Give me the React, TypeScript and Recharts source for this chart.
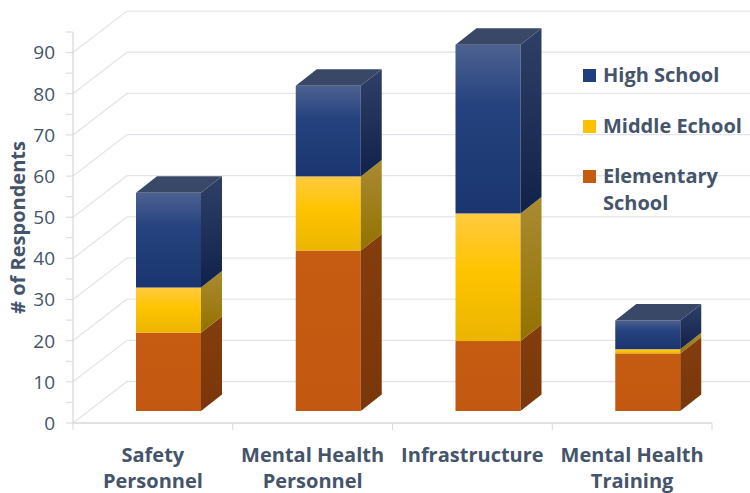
import React from "react";
import { BarChart, Bar, XAxis, YAxis, CartesianGrid, Legend } from "recharts";

const categories = [
  "Safety Personnel",
  "Mental Health Personnel",
  "Infrastructure",
  "Mental Health Training",
];
const elementary = [19, 39, 17, 14];
const middle = [11, 18, 31, 1];
const high = [23, 22, 41, 7];
const seriesNames = ["Elementary School", "Middle Echool", "High School"];
const yTicks = [0, 5, 10, 15, 20, 25, 30, 35, 40, 45, 50, 55, 60, 65, 70, 75, 80, 85, 90, 95];

const data = categories.map((name, i) => ({
  name,
  elementary: elementary[i],
  middle: middle[i],
  high: high[i],
}));

const FONT = "'Open Sans', sans-serif";
const TEXT = "#44546A";
const AXIS = "#D9D9D9";
const WALL = "#E3E5EA";

// 3d projection offsets
const BX = 16; // bar front sits a bit behind the front plane
const BY = 12;
const DX = 21; // bar depth
const DY = 16.5;
const WX = 54; // side wall depth
const WY = 41.5;

const wrapLabel = (s: string) => {
  const words = s.split(" ");
  if (words.length < 2) return [s];
  return [words.slice(0, -1).join(" "), words[words.length - 1]];
};

const makeShape = (front: string, side: string, top?: string) => (props: any) => {
  const { x, y, width, height } = props;
  if (!width || height == null) return <g />;
  const fx = x + BX;
  const fy = y - BY;
  const r = fx + width;
  return (
    <g>
      <rect x={fx} y={fy} width={width} height={height} fill={`url(#${front})`} />
      <path
        d={`M${r},${fy} L${r + DX},${fy - DY} L${r + DX},${fy + height - DY} L${r},${fy + height} Z`}
        fill={`url(#${side})`}
      />
      {top && (
        <path
          d={`M${fx},${fy} L${fx + DX},${fy - DY} L${r + DX},${fy - DY} L${r},${fy} Z`}
          fill={top}
        />
      )}
    </g>
  );
};

const wallLine = (p: any) => {
  if (p.index % 2 !== 0) return <g key={p.key} />;
  const y = p.y1;
  return (
    <path
      key={p.key}
      d={`M${p.x1},${y} L${p.x1 + WX},${y - WY} L750,${y - WY}`}
      stroke={WALL}
      strokeWidth={1.3}
      fill="none"
    />
  );
};

const YTick = (props: any) => {
  const { x, y, payload } = props;
  if (payload.value % 10 !== 0) return <g />;
  return (
    <text x={x} y={y} dy="0.36em" textAnchor="end" fill={TEXT} fontSize={19} fontFamily={FONT}>
      {payload.value}
    </text>
  );
};

const XTick = (props: any) => {
  const { x, y, payload, index } = props;
  const half = payload.offset || 80;
  const lines = wrapLabel(payload.value);
  return (
    <g>
      <line x1={x - half} x2={x - half} y1={y} y2={y + 7} stroke={AXIS} />
      {index === categories.length - 1 && (
        <line x1={x + half} x2={x + half} y1={y} y2={y + 7} stroke={AXIS} />
      )}
      <text x={x} y={y + 38.5} textAnchor="middle" fill={TEXT} fontSize={20} fontWeight={700} fontFamily={FONT}>
        {lines.map((l, i) => (
          <tspan key={i} x={x} dy={i === 0 ? 0 : 26}>
            {l}
          </tspan>
        ))}
      </text>
    </g>
  );
};

const LegendBox = (props: any) => {
  // top of the stack first, as in the original legend
  const items = [...(props.payload || [])].sort(
    (a: any, b: any) => seriesNames.indexOf(b.value) - seriesNames.indexOf(a.value)
  );
  return (
    <div style={{ fontFamily: FONT, fontWeight: 700, fontSize: 20, lineHeight: "27px", color: TEXT }}>
      {items.map((it: any, i: number) => (
        <div key={i} style={{ position: "relative", paddingLeft: 20, width: 148, marginBottom: 23.5 }}>
          <span
            style={{ position: "absolute", left: 0, top: 8, width: 13, height: 13, background: it.color }}
          />
          {it.value}
        </div>
      ))}
    </div>
  );
};

export default function App() {
  return (
    <div style={{ position: "absolute", left: 0, top: 0, background: "#fff" }}>
      <BarChart
        width={750}
        height={493}
        data={data}
        margin={{ top: 32, right: 38, bottom: 30, left: 0 }}
      >
        <defs>
          <linearGradient id="hsFront" x1="0" y1="0" x2="0" y2="1">
            <stop offset="0%" stopColor="#4D6191" />
            <stop offset="35%" stopColor="#26437F" />
            <stop offset="100%" stopColor="#1A356F" />
          </linearGradient>
          <linearGradient id="hsSide" x1="0" y1="0" x2="0" y2="1">
            <stop offset="0%" stopColor="#2F4068" />
            <stop offset="100%" stopColor="#10224A" />
          </linearGradient>
          <linearGradient id="msFront" x1="0" y1="0" x2="0" y2="1">
            <stop offset="0%" stopColor="#FFCA40" />
            <stop offset="45%" stopColor="#FFC400" />
            <stop offset="100%" stopColor="#EBB500" />
          </linearGradient>
          <linearGradient id="msSide" x1="0" y1="0" x2="0" y2="1">
            <stop offset="0%" stopColor="#AA8B32" />
            <stop offset="100%" stopColor="#937200" />
          </linearGradient>
          <linearGradient id="esFront" x1="0" y1="0" x2="0" y2="1">
            <stop offset="0%" stopColor="#C65B12" />
            <stop offset="100%" stopColor="#C35910" />
          </linearGradient>
          <linearGradient id="esSide" x1="0" y1="0" x2="0" y2="1">
            <stop offset="0%" stopColor="#843D0D" />
            <stop offset="100%" stopColor="#7A370A" />
          </linearGradient>
        </defs>
        <CartesianGrid vertical={false} horizontal={wallLine} syncWithTicks />
        <XAxis
          dataKey="name"
          interval={0}
          height={40}
          tickLine={false}
          tickSize={0}
          tickMargin={0}
          axisLine={{ stroke: AXIS, strokeWidth: 1.3 }}
          tick={<XTick />}
        />
        <YAxis
          type="number"
          domain={[0, 95]}
          ticks={yTicks}
          interval={0}
          width={73}
          tickSize={7}
          tickMargin={11}
          axisLine={{ stroke: AXIS, strokeWidth: 1.3 }}
          tickLine={{ stroke: AXIS }}
          tick={<YTick />}
          label={{
            content: (lp: any) => {
              const vb = lp.viewBox || { x: 0, y: 32, height: 391 };
              const cx = vb.x + 25;
              const cy = vb.y + vb.height / 2;
              return (
                <text
                  transform={`translate(${cx},${cy}) rotate(-90)`}
                  textAnchor="middle"
                  fill={TEXT}
                  fontSize={20}
                  fontWeight={700}
                  fontFamily={FONT}
                >
                  # of Respondents
                </text>
              );
            },
          }}
        />
        <Legend
          layout="vertical"
          align="center"
          verticalAlign="middle"
          wrapperStyle={{ left: 583, top: 61 }}
          content={<LegendBox />}
        />
        <Bar
          dataKey="elementary"
          name={seriesNames[0]}
          stackId="a"
          barSize={65}
          fill="#C55A11"
          shape={makeShape("esFront", "esSide")}
          isAnimationActive={false}
        />
        <Bar
          dataKey="middle"
          name={seriesNames[1]}
          stackId="a"
          barSize={65}
          fill="#FFC000"
          shape={makeShape("msFront", "msSide")}
          isAnimationActive={false}
        />
        <Bar
          dataKey="high"
          name={seriesNames[2]}
          stackId="a"
          barSize={65}
          fill="#1F3F7E"
          shape={makeShape("hsFront", "hsSide", "#3A4868")}
          isAnimationActive={false}
        />
      </BarChart>
    </div>
  );
}
